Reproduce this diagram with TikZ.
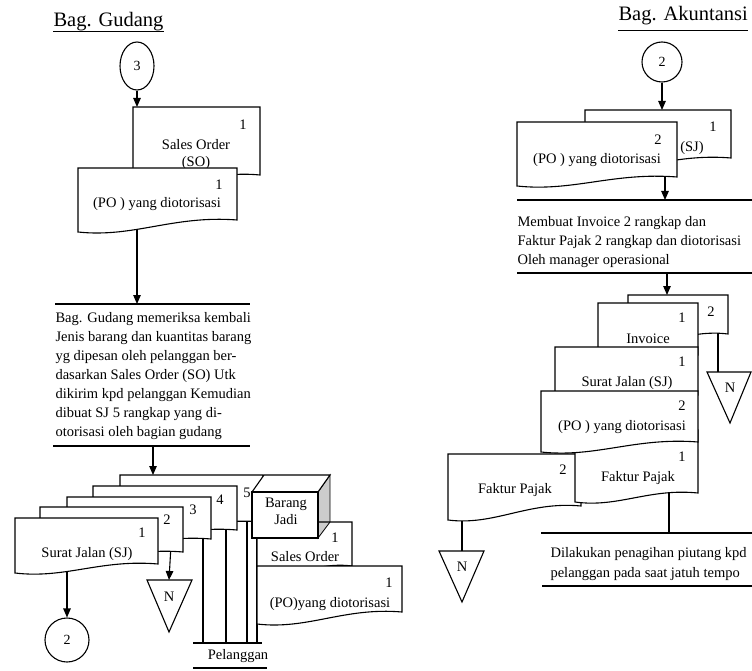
\documentclass[tikz,border=0pt]{standalone}
\usepackage{fontspec}
\setmainfont{Liberation Serif}
\usetikzlibrary{arrows.meta,shapes.geometric,calc}
\newcommand{\docshape}[5]{%
  \pgfmathsetmacro{\cxa}{#1+0.6*(#3-#1)}%
  \pgfmathsetmacro{\cxb}{#1+0.35*(#3-#1)}%
  \path[docst] (#1,#2) -- (#3,#2) -- (#3,#4) .. controls (\cxa,#4-5) and (\cxb,#5+6) .. (#1,#5) -- cycle;}
\begin{document}
\begin{tikzpicture}[x=1pt,y=-1pt,line width=1.1pt,
  docst/.style={draw=black,fill=white,line join=miter},
  lbl/.style={inner sep=0pt,font=\fontsize{14.5}{17}\selectfont},
  ttl/.style={inner sep=0pt,font=\fontsize{20.5}{24}\selectfont},
  arr/.style={-{Triangle[length=9pt,width=7.5pt]}},
  conn/.style={ellipse,draw,fill=white,inner sep=0pt,font=\fontsize{14}{16}\selectfont},
  tri/.style={draw,fill=white,line join=miter}]
\useasboundingbox[fill=white] (0,0) rectangle (752,671);

% ---------------- titles ----------------
\node[ttl,anchor=base west] (tg) at (53,27) {Bag. Gudang};
\draw[line width=1pt] ($(tg.base west)+(0,5)$) -- ($(tg.base east)+(0,5)$);
\node[ttl,anchor=base west] (ta) at (618,21) {Bag. Akuntansi};
\draw[line width=1pt] ($(ta.base west)+(0,9.5)$) -- ($(ta.base east)+(0,9.5)$);

% ---------------- connectors (off-page) and triangles ----------------
\node[conn,minimum width=34pt,minimum height=48pt] (c3) at (137,66) {3};
\node[conn,minimum width=44pt,minimum height=44pt] (c2l) at (67,640) {2};
\node[conn,minimum width=40pt,minimum height=40pt] (c2r) at (662,62) {2};

\path[tri] (147,580) -- (192,580) -- (169,632) -- cycle;
\coordinate (nl) at (169,580);
\node[lbl] (nltxt) at (169,597) {N};
\path[tri] (707,372) -- (751,372) -- (730,423) -- cycle;
\coordinate (nr1) at (718,372);
\node[lbl] (nr1txt) at (730,388) {N};
\path[tri] (439,551) -- (484,551) -- (462,602) -- cycle;
\coordinate (nr2) at (462,551);
\node[lbl] (nr2txt) at (462,567) {N};

% ---------------- named points ----------------
\coordinate (so1top) at (137,107);
\coordinate (po1b) at (137,222);
\coordinate (pg1t) at (137,304);
\coordinate (pg2b) at (153,446);
\coordinate (sj5top) at (153,475);
\coordinate (sj1b) at (67,565);
\coordinate (sj2b) at (171,545);
\coordinate (sj3b) at (203,530);
\coordinate (sj4b) at (226,522);
\coordinate (sj5b) at (247,515);
\coordinate (cubeb) at (257,530);
\coordinate (pel3) at (203,643);
\coordinate (pel4) at (226,643);
\coordinate (pel5) at (247,643);
\coordinate (pelc) at (257,643);

\coordinate (sjrtop) at (662,110);
\coordinate (porb) at (665,170);
\coordinate (pr1t) at (665,200);
\coordinate (pr1b) at (667,273);
\coordinate (inv2top) at (667,295);
\coordinate (inv2b) at (718,330);
\coordinate (fp2b) at (462,512);
\coordinate (fp1b) at (669,488);
\coordinate (pr2t) at (669,533);

% ---------------- connector lines ----------------
\draw[arr] (c3.south) -- (so1top);
\draw[arr] (po1b) -- (pg1t);
\draw[arr] (pg2b) -- (sj5top);
\draw[arr] (sj1b) -- (c2l.north);
\draw[arr] (sj2b) -- (nl);
\draw (sj3b) -- (pel3);
\draw (sj4b) -- (pel4);
\draw (sj5b) -- (pel5);
\draw (cubeb) -- (pelc);

\draw[arr] (c2r.south) -- (sjrtop);
\draw[arr] (porb) -- (pr1t);
\draw[arr] (pr1b) -- (inv2top);
\draw (inv2b) -- (nr1);
\draw (fp2b) -- (nr2);
\draw (fp1b) -- (pr2t);

% ---------------- Bag. Gudang documents ----------------
\docshape{133}{107}{260}{175}{185}
\node[lbl] (so1n) at (243,125) {1};
\node[lbl] (so1t) at (196,145) {Sales Order};
\node[lbl] (so1s) at (196,163) {(SO)};
\docshape{78}{168}{237}{220}{232}
\node[lbl] (po1n) at (219,185) {1};
\node[lbl] (po1t) at (157,204) {(PO ) yang diotorisasi};

% process box (left)
\draw (55,304) -- (250,304);
\node[lbl,anchor=base west] (g1) at (55,322.5) {Bag. Gudang memeriksa kembali};
\node[lbl,anchor=base west] (g2) at (55,341.5) {Jenis barang dan kuantitas barang};
\node[lbl,anchor=base west] (g3) at (55,360.6) {yg dipesan oleh pelanggan ber-};
\node[lbl,anchor=base west] (g4) at (55,379.6) {dasarkan Sales Order (SO) Utk};
\node[lbl,anchor=base west] (g5) at (55,398.7) {dikirim kpd pelanggan Kemudian};
\node[lbl,anchor=base west] (g6) at (55,417.7) {dibuat SJ 5 rangkap yang di-};
\node[lbl,anchor=base west] (g7) at (55,436.8) {otorisasi oleh bagian gudang};
\draw (53,446) -- (250,446);

% stacked Surat Jalan copies
\docshape{120}{475}{263}{522}{531}
\node[lbl] (sj5n) at (247,493) {5};
\docshape{93}{486}{237}{530}{540}
\node[lbl] (sj4n) at (220,500) {4};
\docshape{67}{497}{211}{539}{549}
\node[lbl] (sj3n) at (193,510) {3};
\docshape{40}{507}{183}{552}{562}
\node[lbl] (sj2n) at (167,520) {2};
\docshape{15}{518}{158}{564}{573}
\node[lbl] (sj1n) at (142,533) {1};
\node[lbl] (sj1t) at (87,554) {Surat Jalan (SJ)};

% Sales Order + PO going with the goods
\docshape{257}{522}{352}{566}{576}
\node[lbl] (so2n) at (335,538) {1};
\node[lbl] (so2t) at (305,557) {Sales Order};
\docshape{257}{566}{402}{612}{624}
\node[lbl] (po2n) at (389,583) {1};
\node[lbl] (po2t) at (330,604) {(PO)yang diotorisasi};

% Barang Jadi cube: front face, top face, right (shaded) face
\coordinate (cfl) at (252,492);
\coordinate (cfr) at (318,492);
\coordinate (cbr) at (318,538);
\coordinate (ctl) at (264,475);
\coordinate (ctr) at (330,475);
\coordinate (crb) at (330,522);
\path[fill=black,fill opacity=0.2,draw=black,draw opacity=1,line width=0.8pt] (cfr) -- (ctr) -- (crb) -- (cbr) -- cycle;
\path[fill=white,draw=black,line width=1.1pt] (cfl) -- (ctl) -- (ctr) -- (cfr) -- cycle;
\path[docst] (cfl) rectangle (cbr);
\node[lbl,align=center] (cube) at (286,511.5) {Barang\\Jadi};

% Pelanggan
\draw (193,643) -- (262,643);
\node[lbl] (pel) at (238,656) {Pelanggan};
\draw (193,668) -- (267,668);

% ---------------- Bag. Akuntansi ----------------
\docshape{585}{110}{731}{158}{168}
\node[lbl] (sjrn) at (713,127) {1};
\node[lbl] (sjrt) at (692,148) {(SJ)};
\docshape{517}{122}{677}{177}{186}
\node[lbl] (porn) at (658,140) {2};
\node[lbl] (port) at (597,160) {(PO ) yang diotorisasi};

\draw (517,200) -- (752,200);
\node[lbl,anchor=base west] (a1) at (517,226.5) {Membuat Invoice 2 rangkap dan};
\node[lbl,anchor=base west] (a2) at (517,245.5) {Faktur Pajak 2 rangkap dan diotorisasi};
\node[lbl,anchor=base west] (a3) at (517,264.5) {Oleh manager operasional};
\draw (517,273) -- (752,273);

\docshape{628}{295}{728}{334}{342}
\node[lbl] (inv2n) at (711,312) {2};
\docshape{598}{303}{698}{355}{360}
\node[lbl] (inv1n) at (682,318) {1};
\node[lbl] (inv1t) at (648,339) {Invoice};
\docshape{555}{347}{698}{395}{400}
\node[lbl] (sjr2n) at (682,362) {1};
\node[lbl] (sjr2t) at (627,383) {Surat Jalan (SJ)};
\docshape{448}{454}{581}{506}{520}
\node[lbl] (fp2n) at (563,470) {2};
\node[lbl] (fp2t) at (515,490) {Faktur Pajak};
\docshape{575}{430}{698}{493}{502}
\node[lbl] (fp1n) at (682,457) {1};
\node[lbl] (fp1t) at (638,478) {Faktur Pajak};
\docshape{541}{391}{698}{442}{452}
\node[lbl] (por2n) at (682,406) {2};
\node[lbl] (por2t) at (622,427) {(PO ) yang diotorisasi};

\draw (541,533) -- (752,533);
\node[lbl,anchor=base west] (b1) at (550,557.5) {Dilakukan penagihan piutang kpd};
\node[lbl,anchor=base west] (b2) at (550,577) {pelanggan pada saat jatuh tempo};
\draw (542,586) -- (752,586);
\end{tikzpicture}
\end{document}
